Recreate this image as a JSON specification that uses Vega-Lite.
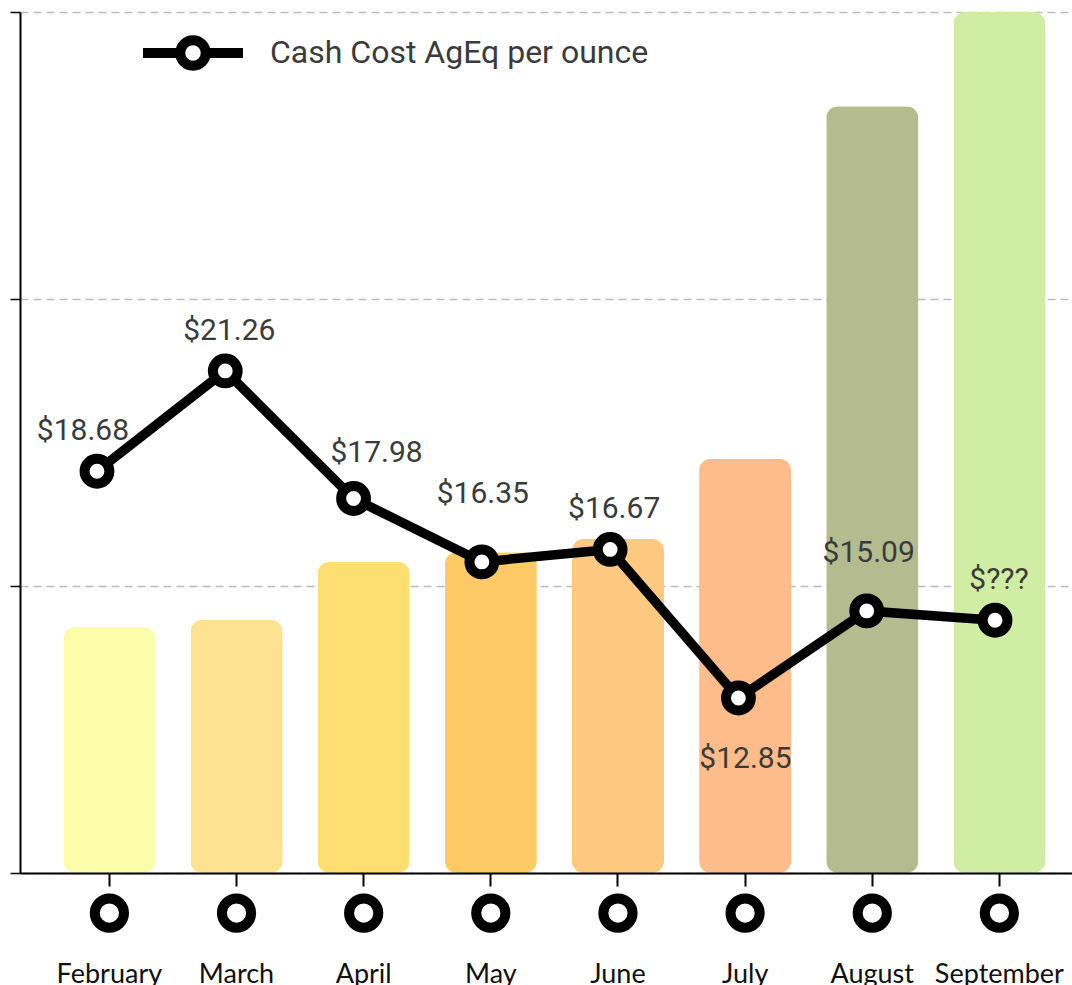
{
  "$schema": "https://vega.github.io/schema/vega-lite/v6.json",
  "width": 1052,
  "height": 861,
  "autosize": {"type": "none"},
  "padding": {"left": 20, "top": 12, "right": 0, "bottom": 112},
  "background": "white",
  "config": {"view": {"stroke": null}, "text": {"font": "Roboto", "fontSize": 30, "color": "#3b3b3b", "baseline": "alphabetic"}},
  "data": {
    "values": [
      {"month": "February", "volume": 857, "cost": 18.68, "label": "$18.68"},
      {"month": "March", "volume": 882, "cost": 21.26, "label": "$21.26"},
      {"month": "April", "volume": 1084, "cost": 17.98, "label": "$17.98"},
      {"month": "May", "volume": 1118, "cost": 16.35, "label": "$16.35"},
      {"month": "June", "volume": 1164, "cost": 16.67, "label": "$16.67"},
      {"month": "July", "volume": 1443, "cost": 12.85, "label": "$12.85"},
      {"month": "August", "volume": 2672, "cost": 15.09, "label": "$15.09"},
      {"month": "September", "volume": 3000, "cost": 14.85, "label": "$???"}
    ]
  },
  "resolve": {"scale": {"x": "independent", "y": "independent", "color": "independent"}},
  "layer": [
    {
      "layer": [
        {
          "mark": {"type": "bar", "cornerRadius": 12},
          "encoding": {
            "x": {
              "field": "month", "type": "nominal",
              "sort": ["February", "March", "April", "May", "June", "July", "August", "September"],
              "scale": {"type": "band", "paddingInner": 0.276, "paddingOuter": 0.275, "align": 0.62},
              "axis": {"title": null, "zindex": 1, "domainColor": "black", "domainWidth": 2, "tickColor": "black", "tickWidth": 2, "tickSize": 13, "labelFont": "Lato", "labelFontSize": 27, "labelColor": "#111111", "labelBaseline": "alphabetic", "labelPadding": 96, "labelAngle": 0, "grid": false}
            },
            "y": {
              "field": "volume", "type": "quantitative",
              "scale": {"domain": [0, 3000], "nice": false},
              "axis": {"title": null, "values": [0, 1000, 2000, 3000], "labels": false, "tickSize": 10, "tickColor": "black", "tickWidth": 1.5, "domainColor": "black", "domainWidth": 2, "grid": true, "gridColor": "#bdbdbd", "gridDash": [8, 5], "gridWidth": 1.5}
            },
            "color": {
              "field": "month", "type": "nominal",
              "scale": {
                "domain": ["February", "March", "April", "May", "June", "July", "August", "September"],
                "range": ["#FCFDA8", "#FDE391", "#FEDD71", "#FDCA66", "#FDC87F", "#FDBC89", "#B3BB8F", "#D0EDA4"]
              },
              "legend": null
            }
          }
        },
        {
          "mark": {"type": "circle", "fill": "white", "stroke": "black", "strokeWidth": 10, "size": 855, "opacity": 1},
          "encoding": {
            "x": {
              "field": "month", "type": "nominal",
              "sort": ["February", "March", "April", "May", "June", "July", "August", "September"]
            },
            "y": {"datum": -139.4, "type": "quantitative"}
          }
        }
      ]
    },
    {
      "encoding": {
        "x": {
          "field": "month", "type": "ordinal",
          "sort": ["February", "March", "April", "May", "June", "July", "August", "September"],
          "scale": {"type": "point", "padding": 0.6},
          "axis": null
        },
        "y": {"field": "cost", "type": "quantitative", "scale": {"domain": [8.35, 30.49], "nice": false, "zero": false}, "axis": null}
      },
      "layer": [
        {
          "mark": {"type": "line", "strokeWidth": 9.5},
          "encoding": {
            "color": {
              "datum": "Cash Cost AgEq per ounce",
              "scale": {"range": ["black"]},
              "legend": {
                "orient": "none", "legendX": 118, "legendY": -14, "title": null, "padding": 0,
                "symbolType": "M-1,0H-0.255M0.255,0H1M0.255,0A0.255,0.255,0,1,1,-0.255,0A0.255,0.255,0,1,1,0.255,0Z",
                "symbolSize": 10000, "symbolStrokeWidth": 10, "symbolFillColor": "white", "symbolStrokeColor": "black",
                "labelFont": "Roboto", "labelFontSize": 32, "labelColor": "#3b3b3b", "labelOffset": 22, "labelLimit": 600
              }
            }
          }
        },
        {
          "mark": {"type": "circle", "fill": "white", "stroke": "black", "strokeWidth": 10, "size": 616, "opacity": 1}
        },
        {
          "transform": [{"filter": "indexof(['March','June','September'], datum.month) >= 0"}],
          "mark": {"type": "text", "dy": -31, "dx": 4},
          "encoding": {"text": {"field": "label"}}
        },
        {
          "transform": [{"filter": "datum.month === 'February'"}],
          "mark": {"type": "text", "dy": -31, "dx": -14},
          "encoding": {"text": {"field": "label"}}
        },
        {
          "transform": [{"filter": "datum.month === 'April'"}],
          "mark": {"type": "text", "dy": -37, "dx": 23},
          "encoding": {"text": {"field": "label"}}
        },
        {
          "transform": [{"filter": "datum.month === 'May'"}],
          "mark": {"type": "text", "dy": -59, "dx": 1},
          "encoding": {"text": {"field": "label"}}
        },
        {
          "transform": [{"filter": "datum.month === 'August'"}],
          "mark": {"type": "text", "dy": -49, "dx": 2},
          "encoding": {"text": {"field": "label"}}
        },
        {
          "transform": [{"filter": "datum.month === 'July'"}],
          "mark": {"type": "text", "dy": 70, "dx": 7},
          "encoding": {"text": {"field": "label"}}
        }
      ]
    }
  ]
}
